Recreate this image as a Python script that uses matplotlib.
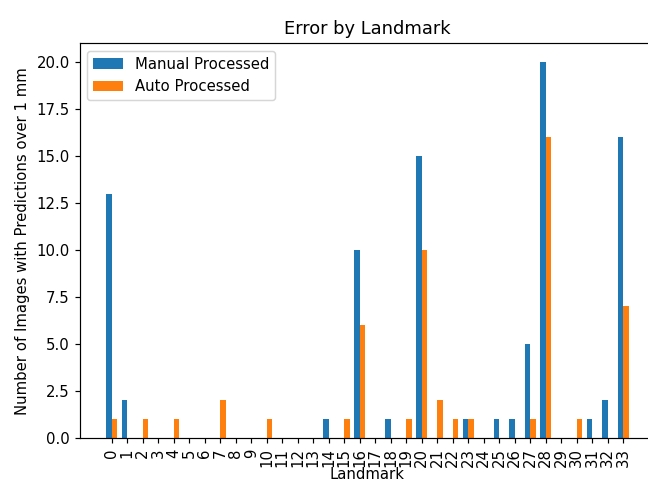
import matplotlib
matplotlib.use("Agg")
import matplotlib.pyplot as plt
import numpy as np

# errors per landmark (count of images with prediction error > 1 mm)
landmarks = list(range(34))
manual = [13, 2, 0, 0, 0, 0, 0, 0, 0, 0, 0, 0, 0, 0, 1, 0, 10, 0, 1, 0,
          15, 0, 0, 1, 0, 1, 1, 5, 20, 0, 0, 1, 2, 16]
auto = [1, 0, 1, 0, 1, 0, 0, 2, 0, 0, 1, 0, 0, 0, 0, 1, 6, 0, 0, 1,
        10, 2, 1, 1, 0, 0, 0, 1, 16, 0, 1, 0, 0, 7]

x = np.arange(len(landmarks))
width = 0.35

fig = plt.figure(figsize=(648 / 107, 483 / 107), dpi=107)
ax = fig.add_axes([0.1235, 0.0932, 0.887, 0.817])

ax.bar(x - width / 2, manual, width, label="Manual Processed")
ax.bar(x + width / 2, auto, width, label="Auto Processed")

ax.set_title("Error by Landmark")
ax.set_xlabel("Landmark", labelpad=0)
ax.set_ylabel("Number of Images with Predictions over 1 mm")
ax.set_xticks(x)
ax.set_xticklabels(landmarks, rotation=90)
ax.legend(loc="upper left")
# the right edge of the axes falls just outside the picture
ax.spines["right"].set_visible(False)

fig.savefig("out.png", dpi=107)
